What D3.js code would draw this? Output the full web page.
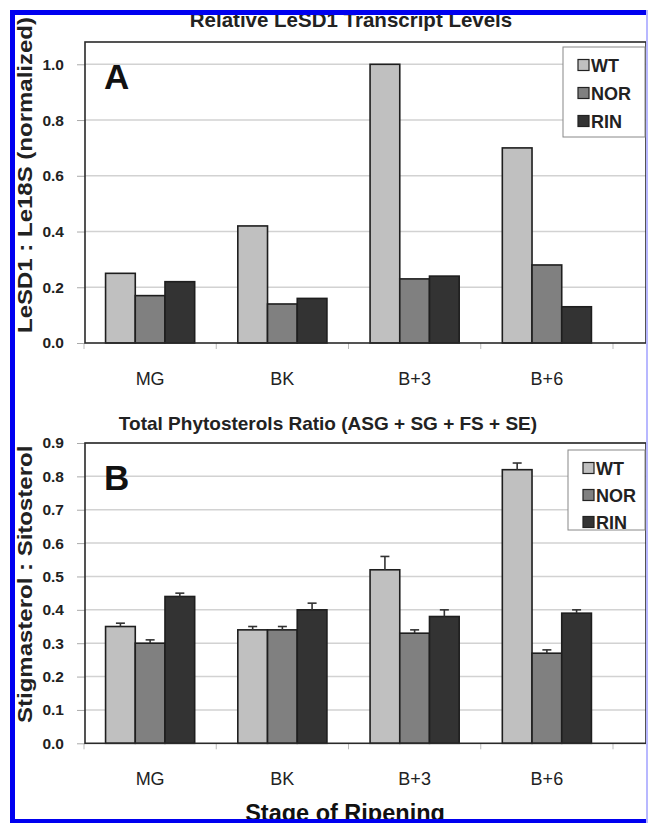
<!DOCTYPE html>
<html><head><meta charset="utf-8">
<script src="https://cdn.jsdelivr.net/npm/d3@7"></script>
<style>body{margin:0;background:#fff}svg{display:block}text{font-family:"Liberation Sans",Arial,sans-serif}</style>
</head><body>
<script>
const categories = ["MG","BK","B+3","B+6"];
const series = ["WT","NOR","RIN"];
const colors = ["#c0c0c0","#808080","#333333"];
// Panel A: relative LeSD1 transcript levels
const aWT  = [0.25,0.42,1.00,0.70];
const aNOR = [0.17,0.14,0.23,0.28];
const aRIN = [0.22,0.16,0.24,0.13];
const aTicks = [0.0,0.2,0.4,0.6,0.8,1.0];
// Panel B: stigmasterol : sitosterol
const bWT  = [0.35,0.34,0.52,0.82];
const bNOR = [0.30,0.34,0.33,0.27];
const bRIN = [0.44,0.40,0.38,0.39];
const bWTerr  = [0.01,0.01,0.04,0.02];
const bNORerr = [0.01,0.01,0.01,0.01];
const bRINerr = [0.01,0.02,0.02,0.01];
const bTicks = [0.0,0.1,0.2,0.3,0.4,0.5,0.6,0.7,0.8,0.9];

const W=648,H=823;
const svg=d3.select("body").append("svg").attr("width",W).attr("height",H);
svg.append("rect").attr("width",W).attr("height",H).attr("fill","#fff");

function panel(o){
  const g=svg.append("g");
  const x0=d3.scaleBand().domain(categories).range([84,613]).padding(0);
  const x1=d3.scaleBand().domain(series).range([0,x0.bandwidth()]).paddingInner(0).paddingOuter(0.726);
  const y=d3.scaleLinear().domain(o.domain).range([o.bottom,o.top]);
  // gridlines
  g.append("g").selectAll("line").data(o.ticks.slice(1)).join("line")
    .attr("x1",o.left).attr("x2",o.right).attr("y1",d=>y(d)).attr("y2",d=>y(d))
    .attr("stroke","#d2d2d2").attr("stroke-width",1.5);
  // y axis
  const ya=g.append("g").attr("transform",`translate(${o.left},0)`)
    .call(d3.axisLeft(y).tickValues(o.ticks).tickFormat(d3.format(".1f")).tickSize(8).tickPadding(13));
  ya.select(".domain").remove();
  ya.selectAll("line").attr("stroke","#aaa");
  ya.selectAll("text").attr("font-size",15.5).attr("font-weight","bold").attr("fill","#222");
  // x axis ticks
  const xa=g.append("g").attr("transform",`translate(0,${o.bottom})`);
  xa.selectAll("line").data([84,...categories.map(c=>x0(c)+x0.bandwidth())]).join("line")
    .attr("x1",d=>d).attr("x2",d=>d).attr("y1",0).attr("y2",6).attr("stroke","#bbb");
  xa.selectAll("text").data(categories).join("text")
    .attr("x",d=>x0(d)+x0.bandwidth()/2).attr("y",o.catY-o.bottom)
    .attr("text-anchor","middle").attr("font-size",18).attr("fill","#222").text(d=>d);
  // bars
  const data=[];
  categories.forEach((c,i)=>series.forEach((s,j)=>data.push({c,s,j,v:o.vals[j][i],e:o.errs?o.errs[j][i]:null})));
  const bars=g.append("g");
  bars.selectAll("rect").data(data).join("rect")
    .attr("x",d=>x0(d.c)+x1(d.s)).attr("width",x1.bandwidth())
    .attr("y",d=>y(d.v)).attr("height",d=>y(0)-y(d.v))
    .attr("fill",d=>colors[d.j]).attr("stroke","#1e1e1e").attr("stroke-width",1.6);
  if(o.errs){
    const eb=g.append("g").attr("stroke","#333").attr("stroke-width",1.6);
    data.forEach(d=>{
      const cx=x0(d.c)+x1(d.s)+x1.bandwidth()/2;
      eb.append("line").attr("x1",cx).attr("x2",cx).attr("y1",y(d.v)).attr("y2",y(d.v+d.e));
      eb.append("line").attr("x1",cx-4.5).attr("x2",cx+4.5).attr("y1",y(d.v+d.e)).attr("y2",y(d.v+d.e));
    });
  }
  // plot frame
  g.append("rect").attr("x",o.left).attr("y",o.top).attr("width",o.right-o.left).attr("height",o.bottom-o.top)
    .attr("fill","none").attr("stroke","#2a2a2a").attr("stroke-width",1.6);
  // panel letter
  g.append("text").attr("x",104).attr("y",o.letterY).attr("font-size",35).attr("font-weight","bold").attr("fill","#111").text(o.letter);
  // legend
  const lg=g.append("g");
  lg.append("rect").attr("x",o.legX).attr("y",o.legY).attr("width",645-o.legX).attr("height",o.legH)
    .attr("fill","#fff").attr("stroke","#888").attr("stroke-width",1);
  series.forEach((s,j)=>{
    const cy=o.legY+18+j*o.legStep;
    lg.append("rect").attr("x",o.legX+15).attr("y",cy-5.5).attr("width",11).attr("height",11)
      .attr("fill",colors[j]).attr("stroke","#222").attr("stroke-width",1.2);
    lg.append("text").attr("x",o.legX+28).attr("y",cy+6.5).attr("font-size",18).attr("font-weight","bold").attr("fill","#222").text(s);
  });
  // title
  g.append("text").attr("x",o.titleX).attr("y",o.titleY).attr("text-anchor","middle").attr("font-size",o.titleSize)
    .attr("font-weight","bold").attr("fill","#222").text(o.title);
  // y label (glyph height compressed like the reference)
  g.append("text").attr("transform",`translate(32,${o.ylabY}) rotate(-90) scale(1,${o.ylabSq})`).attr("font-size",o.ylabSize)
    .attr("font-weight","bold").attr("fill","#222").text(o.ylab);
}

panel({left:85,right:646,top:42,bottom:343,domain:[0,1.08],ticks:aTicks,vals:[aWT,aNOR,aRIN],
  catY:385,letter:"A",letterY:89,legX:563,legY:47,legH:90,legStep:28,
  title:"Relative LeSD1 Transcript Levels",titleX:351,titleY:27,titleSize:20.5,
  ylab:"LeSD1 : Le18S (normalized)",ylabY:333,ylabSize:24,ylabSq:0.85});
panel({left:85,right:646,top:443,bottom:743.3,domain:[0,0.9],ticks:bTicks,vals:[bWT,bNOR,bRIN],errs:[bWTerr,bNORerr,bRINerr],
  catY:785,letter:"B",letterY:490,legX:568,legY:450,legH:80,legStep:27,
  title:"Total Phytosterols Ratio (ASG + SG + FS + SE)",titleX:328,titleY:430,titleSize:19,
  ylab:"Stigmasterol : Sitosterol",ylabY:723,ylabSize:24,ylabSq:0.85});

// x axis title
svg.append("text").attr("x",345).attr("y",821).attr("text-anchor","middle").attr("font-size",23.5)
  .attr("font-weight","bold").attr("fill","#111").text("Stage of Ripening");

// blue frame
svg.append("rect").attr("x",10).attr("y",10).attr("width",W-10).attr("height",5).attr("fill","#0000f0");
svg.append("rect").attr("x",10).attr("y",10).attr("width",5).attr("height",H-10).attr("fill","#0000f0");
svg.append("rect").attr("x",10).attr("y",819).attr("width",W-10).attr("height",4).attr("fill","#0000f0");
svg.append("rect").attr("x",646).attr("y",10).attr("width",2).attr("height",H-10).attr("fill","#b8b8ff");
</script>
</body></html>
